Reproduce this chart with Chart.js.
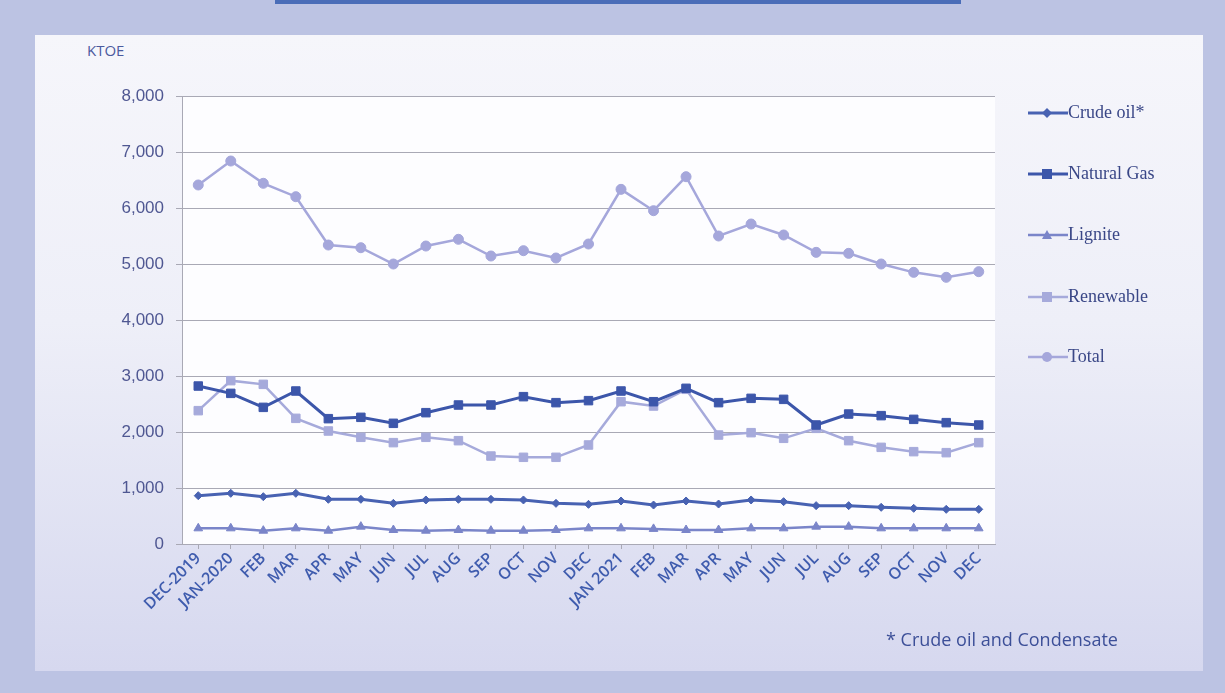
<!DOCTYPE html>
<html>
<head>
<meta charset="utf-8">
<script src="https://cdn.jsdelivr.net/npm/chart.js@4"></script>
<style>
  html, body { margin: 0; padding: 0; }
  body { width: 1225px; height: 693px; background: #bcc3e3; position: relative; overflow: hidden; }
  .topbar { position: absolute; left: 275px; top: 0; width: 686px; height: 4px; background: #4a6db8; }
  .panel { position: absolute; left: 35px; top: 35px; width: 1168px; height: 636px;
           background: linear-gradient(#f6f6fb 0%, #eeeff8 45%, #d6d8ef 100%); }
  #chart { position: absolute; left: 0; top: 0; }
  .unit { position: absolute; left: 87px; top: 40px; font: 15px "Open Sans", sans-serif; color: #4b5a9e; }
  .note { position: absolute; left: 886px; top: 627px; font: 18px "Open Sans", sans-serif; color: #3c4f98; }
  .legend { position: absolute; left: 1026px; top: 0; }
  .legend div { position: absolute; left: 0; white-space: nowrap; font: 18px "Liberation Serif", serif; color: #3a4787; display: flex; align-items: center; }
</style>
</head>
<body>
<div class="topbar"></div>
<div class="panel"></div>
<div class="unit">KTOE</div>
<canvas id="chart" width="1225" height="693"></canvas>
<div class="legend" id="legend"></div>
<div class="note">* Crude oil and Condensate</div>
<script>
const months = ['DEC-2019', 'JAN-2020', 'FEB', 'MAR', 'APR', 'MAY', 'JUN', 'JUL', 'AUG', 'SEP', 'OCT', 'NOV', 'DEC',
                'JAN 2021', 'FEB', 'MAR', 'APR', 'MAY', 'JUN', 'JUL', 'AUG', 'SEP', 'OCT', 'NOV', 'DEC'];

const crudeOil   = [863, 905, 845, 905, 798, 798, 726, 786, 798, 798, 786, 726, 708,
                    768, 696, 768, 714, 786, 756, 685, 685, 655, 637, 619, 619];
const naturalGas = [2821, 2690, 2440, 2732, 2238, 2262, 2155, 2345, 2482, 2482, 2631, 2524, 2560,
                    2732, 2541, 2780, 2524, 2601, 2583, 2125, 2321, 2292, 2226, 2167, 2125];
const lignite    = [280, 280, 238, 280, 238, 310, 250, 238, 250, 238, 238, 250, 280,
                    280, 270, 250, 250, 280, 280, 310, 310, 280, 280, 280, 280];
const renewable  = [2381, 2917, 2851, 2244, 2018, 1905, 1810, 1905, 1845, 1571, 1548, 1548, 1768,
                    2541, 2464, 2762, 1946, 1988, 1887, 2065, 1845, 1726, 1649, 1631, 1810];
const total      = [6411, 6839, 6441, 6202, 5339, 5291, 5000, 5321, 5441, 5143, 5238, 5107, 5357,
                    6333, 5952, 6559, 5500, 5714, 5518, 5208, 5190, 5000, 4851, 4762, 4863];

const yTicks = [0, 1000, 2000, 3000, 4000, 5000, 6000, 7000, 8000];

const series = [
  { label: 'Crude oil*',  data: crudeOil,   color: '#4862b2', width: 3,   style: 'rectRot',  r: 4 },
  { label: 'Natural Gas', data: naturalGas, color: '#3c56aa', width: 3,   style: 'rect',     r: 6 },
  { label: 'Lignite',     data: lignite,    color: '#7a85c9', width: 2.5, style: 'triangle', r: 5 },
  { label: 'Renewable',   data: renewable,  color: '#a6aadb', width: 2.5, style: 'rect',     r: 6 },
  { label: 'Total',       data: total,      color: '#a5a7db', width: 2.5, style: 'circle',   r: 5 },
];

const plotBg = {
  id: 'plotBg',
  beforeDraw(chart) {
    const { ctx, chartArea: a } = chart;
    ctx.save();
    ctx.fillStyle = '#fdfdff';
    ctx.fillRect(a.left, a.top, a.right - a.left, a.bottom - a.top);
    ctx.restore();
  }
};

new Chart(document.getElementById('chart').getContext('2d'), {
  type: 'line',
  data: {
    labels: months,
    datasets: series.map(s => ({
      label: s.label,
      data: s.data,
      borderColor: s.color,
      backgroundColor: s.color,
      borderWidth: s.width,
      pointStyle: s.style,
      pointRadius: s.r,
      pointBorderWidth: 1,
      pointBorderColor: s.color,
      tension: 0,
    })),
  },
  options: {
    responsive: false,
    animation: false,
    layout: { padding: { left: 112, top: 96, right: 230, bottom: 69 } },
    plugins: { legend: { display: false }, tooltip: { enabled: false } },
    scales: {
      x: {
        offset: true,
        grid: { display: true, drawOnChartArea: false, drawTicks: true, tickLength: 5, color: '#a9a9b5' },
        border: { color: '#a9a9b5' },
        ticks: {
          autoSkip: false, maxRotation: 45, minRotation: 45, padding: 0,
          color: '#3f5cae', font: { family: 'Open Sans', size: 16, weight: '600' },
        },
        afterFit(scale) { scale.height = 80; },
      },
      y: {
        min: 0, max: 8000,
        afterBuildTicks(scale) { scale.ticks = yTicks.map(v => ({ value: v })); },
        grid: { color: '#a9a9b5', tickLength: 6 },
        border: { color: '#a9a9b5' },
        ticks: {
          padding: 12,
          color: '#4f5792', font: { family: 'Liberation Sans', size: 17 },
          callback: v => v.toLocaleString('en-US'),
        },
        afterFit(scale) { scale.width = 70; },
      },
    },
  },
  plugins: [plotBg],
});

// legend: line through marker + label
const legendTop = [113, 174, 235, 297, 357];
const legendEl = document.getElementById('legend');
series.forEach((s, i) => {
  const c = s.color;
  let mk;
  if (s.style === 'rectRot') mk = `<polygon points="21,3 26,8 21,13 16,8" fill="${c}"/>`;
  else if (s.style === 'rect') mk = `<rect x="16" y="3" width="10" height="10" fill="${c}"/>`;
  else if (s.style === 'triangle') mk = `<polygon points="21,3 26,12 16,12" fill="${c}"/>`;
  else mk = `<circle cx="21" cy="8" r="5" fill="${c}"/>`;
  const d = document.createElement('div');
  d.style.top = (legendTop[i] - 11) + 'px';
  d.innerHTML = `<svg width="42" height="16"><line x1="2" y1="8" x2="42" y2="8" stroke="${c}" stroke-width="${s.width}"/>${mk}</svg><span>${s.label}</span>`;
  legendEl.appendChild(d);
});
</script>
</body>
</html>
